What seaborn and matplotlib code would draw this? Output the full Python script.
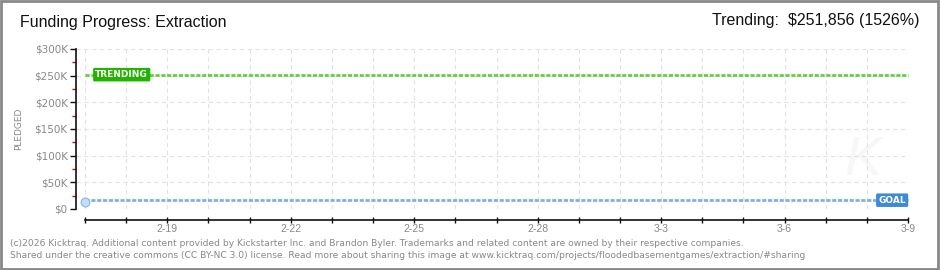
import matplotlib
matplotlib.use("Agg")
import matplotlib.pyplot as plt
import seaborn as sns
import pandas as pd

# ---- data ----
day_labels = ["2-17", "2-18", "2-19", "2-20", "2-21", "2-22", "2-23", "2-24", "2-25", "2-26",
              "2-27", "2-28", "3-1", "3-2", "3-3", "3-4", "3-5", "3-6", "3-7", "3-8", "3-9"]
shown_labels = ["2-19", "2-22", "2-25", "2-28", "3-3", "3-6", "3-9"]
pledged_days = ["2-17"]
pledged_values = [13000]
goal_value = 16500
trending_value = 251856
trending_pct = 1526
y_ticks = [0, 50000, 100000, 150000, 200000, 250000, 300000]
y_tick_labels = ["$0", "$50K", "$100K", "$150K", "$200K", "$250K", "$300K"]

sns.set_theme(style="white")
plt.rcParams['font.family'] = ['Liberation Sans', 'DejaVu Sans']
plt.rcParams['xtick.bottom'] = True
plt.rcParams['ytick.left'] = True

fig = plt.figure(figsize=(9.4, 2.7), dpi=100)
fig.patch.set_facecolor("white")
ax = fig.add_axes([76/940, 1-209/270, (908-76)/940, 160/270])

nd = len(day_labels)
xs = list(range(nd))

# trending and goal lines
df_tr = pd.DataFrame({"x": [0, nd-1], "y": [trending_value]*2})
df_goal = pd.DataFrame({"x": [0, nd-1], "y": [goal_value]*2})
sns.lineplot(data=df_tr, x="x", y="y", ax=ax, color="#66d044", lw=2.0, clip_on=False)
ax.lines[-1].set_dashes([1.5, 0.6])
sns.lineplot(data=df_goal, x="x", y="y", ax=ax, color="#7fb0ea", lw=2.0, clip_on=False)
ax.lines[-1].set_dashes([1.5, 0.6])

# pledged point
px = [day_labels.index(d) for d in pledged_days]
sns.scatterplot(x=px, y=pledged_values, ax=ax, color="#c4dcf6", edgecolor="#8fb4e0",
                s=40, linewidth=0.8, zorder=5, clip_on=False)

ax.set_xlim(-0.22, nd-1)
ax.set_ylim(0, 300000)

# grid
ax.set_xticks(xs)
ax.set_yticks(y_ticks)
ax.grid(True, color="#e2e2e2", linestyle=(0, (4, 3)), linewidth=0.8)
ax.set_axisbelow(True)

ax.set_yticklabels(y_tick_labels, family="DejaVu Sans")
ax.set_xticklabels([d if d in shown_labels else "" for d in day_labels], family="DejaVu Sans")
ax.tick_params(axis="y", which="major", left=True, direction="out", length=4, width=1,
               color="#111", labelcolor="#888", labelsize=7.5, pad=2)
ax.tick_params(axis="x", which="major", bottom=True, direction="inout", length=5, width=1,
               color="#111", labelcolor="#888", labelsize=7.5, pad=0.5)
ax.set_yticks([25000, 75000, 125000, 175000, 225000, 275000], minor=True)
ax.tick_params(axis="y", which="minor", left=True, direction="out", length=3, width=1,
               color="#e00000")

for s in ["top", "right"]:
    ax.spines[s].set_visible(False)
ax.spines["left"].set_color("#111")
ax.spines["left"].set_linewidth(1.2)
ax.spines["left"].set_bounds(0, 300000)
ax.spines["bottom"].set_color("#111")
ax.spines["bottom"].set_linewidth(1.2)
ax.spines["bottom"].set_position(("outward", 8))
ax.spines["bottom"].set_bounds(0, nd-1)

ax.set_xlabel("")
ax.set_ylabel("PLEDGED", fontsize=6.5, color="#888", labelpad=8, family="DejaVu Sans")

# labels on lines
ax.text(0.25, trending_value, "TRENDING", fontsize=6.5, color="white", fontweight="bold",
        va="center", ha="left", zorder=6, family="DejaVu Sans",
        bbox=dict(boxstyle="round,pad=0.25,rounding_size=0.15", fc="#22b500", ec="none"))
ax.text(19.95, goal_value, "GOAL", fontsize=6.5, color="white", fontweight="bold",
        va="center", ha="right", zorder=6, family="DejaVu Sans",
        bbox=dict(boxstyle="round,pad=0.25,rounding_size=0.15", fc="#3d8ad8", ec="none"))

# faint watermark
ax.text(18.9, 90000, "K", fontsize=40, color="#f7f7f7", style="italic", ha="center",
        va="center", zorder=0)

# titles
fig.text(20/940, 1-22/270, "Funding Progress: Extraction", fontsize=11.5, color="#111",
         va="center", ha="left")
fig.text(920/940, 1-21/270, f"Trending:  ${trending_value:,} ({trending_pct}%)", fontsize=11.5,
         color="#111", va="center", ha="right")

fig.text(10/940, 1-243/270,
         "(c)2026 Kicktraq. Additional content provided by Kickstarter Inc. and Brandon Byler. "
         "Trademarks and related content are owned by their respective companies.",
         fontsize=6.6, color="#888", va="center", ha="left", family="DejaVu Sans")
fig.text(10/940, 1-256/270,
         "Shared under the creative commons (CC BY-NC 3.0) license. Read more about sharing this "
         "image at www.kicktraq.com/projects/floodedbasementgames/extraction/#sharing",
         fontsize=6.6, color="#888", va="center", ha="left", family="DejaVu Sans")

# border
fig.add_artist(plt.Rectangle((0.001, 0.002), 0.997, 0.995, transform=fig.transFigure,
                             fill=False, ec="#888888", lw=2))

fig.savefig("out.png", dpi=100, facecolor="white")
